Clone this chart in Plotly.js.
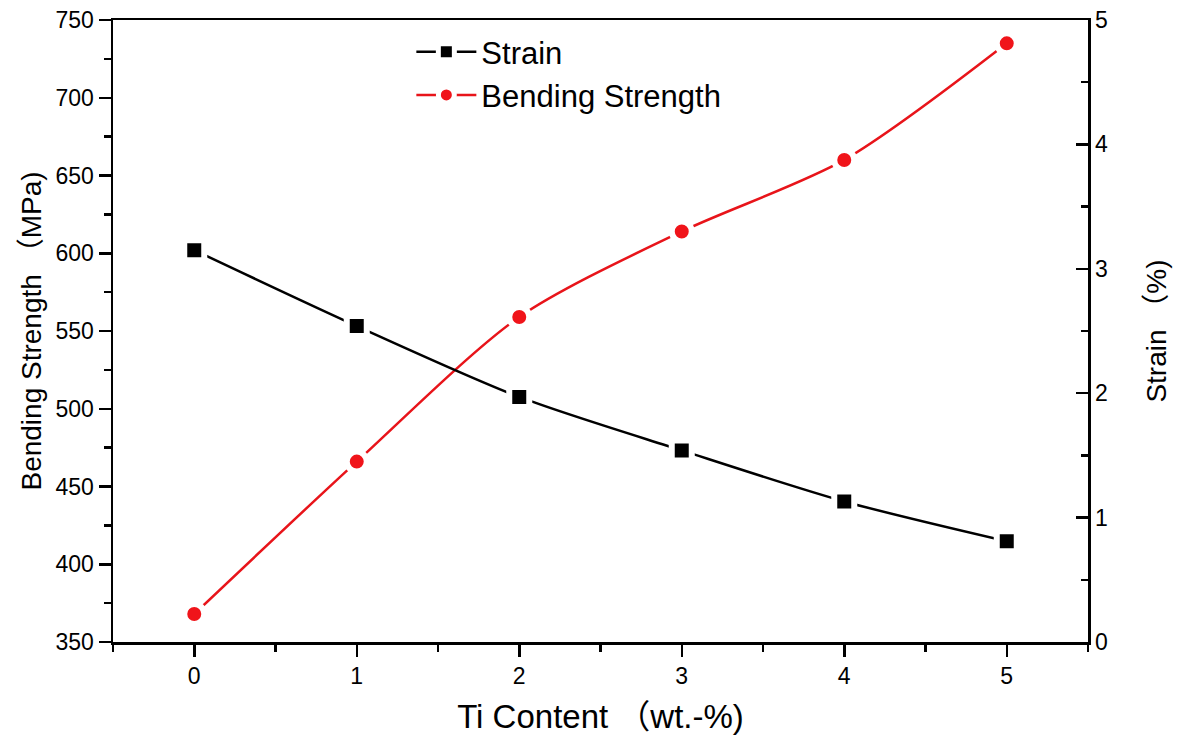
<!DOCTYPE html>
<html>
<head>
<meta charset="utf-8">
<script src="https://cdn.plot.ly/plotly-3.0.1.min.js"></script>
<style>html,body{margin:0;padding:0;background:#fff;}#chart{width:1181px;height:740px;}</style>
</head>
<body>
<div id="chart"></div>
<script>
const tiContent = [0, 1, 2, 3, 4, 5];
const strainPct = [3.15, 2.54, 1.97, 1.54, 1.13, 0.81];
const bendingStrength = [368, 466, 559, 614, 660, 735];

const font = "Arial, 'Liberation Sans', 'Noto Sans CJK SC', sans-serif";
const tickFont = {family: font, size: 23, color: '#000000'};

const traces = [
  {
    x: tiContent, y: strainPct, yaxis: 'y2', name: 'Strain',
    mode: 'lines+markers',
    line: {color: '#000000', width: 2.5, shape: 'spline', smoothing: 0.8},
    marker: {symbol: 'square', size: 20, color: '#000000', line: {color: '#ffffff', width: 6}}
  },
  {
    x: tiContent, y: bendingStrength, yaxis: 'y', name: 'Bending Strength',
    mode: 'lines+markers',
    line: {color: '#e8141a', width: 2.5, shape: 'spline', smoothing: 0.8},
    marker: {symbol: 'circle', size: 20, color: '#f0141a', line: {color: '#ffffff', width: 6}}
  }
];

const layout = {
  width: 1181, height: 740,
  margin: {l: 113, r: 93, t: 20, b: 98},
  paper_bgcolor: '#ffffff', plot_bgcolor: '#ffffff',
  font: {family: font, color: '#000000', size: 23},
  showlegend: true,
  legend: {
    x: 0.306, y: 0.992, xanchor: 'left', yanchor: 'top',
    bgcolor: 'rgba(0,0,0,0)', font: {size: 31, family: font},
    itemwidth: 60, tracegroupgap: 0
  },
  xaxis: {
    range: [-0.5, 5.5], dtick: 1, tick0: 0,
    showgrid: false, zeroline: false,
    showline: true, linecolor: '#000', linewidth: 2.5, mirror: true,
    ticks: 'outside', ticklen: 12, tickwidth: 2.5, tickcolor: '#000',
    minor: {dtick: 0.5, tick0: 0, ticks: 'outside', ticklen: 7, tickwidth: 2.5, tickcolor: '#000'},
    tickfont: tickFont,
    title: {text: 'Ti Content （wt.-%)', font: {size: 33}, standoff: 17}
  },
  yaxis: {
    range: [350, 750], dtick: 50, tick0: 350,
    showgrid: false, zeroline: false,
    showline: true, linecolor: '#000', linewidth: 2.5,
    ticks: 'outside', ticklen: 12, tickwidth: 2.5, tickcolor: '#000',
    minor: {dtick: 25, ticks: 'outside', ticklen: 7, tickwidth: 2.5, tickcolor: '#000'},
    tickfont: tickFont,
    title: {text: 'Bending Strength （MPa)', font: {size: 28}, standoff: 6}
  },
  yaxis2: {
    range: [0, 5], dtick: 1, tick0: 0,
    overlaying: 'y', side: 'right', anchor: 'x',
    showgrid: false, zeroline: false,
    showline: true, linecolor: '#000', linewidth: 2.5,
    ticks: 'inside', ticklen: 12, tickwidth: 2.5, tickcolor: '#000',
    minor: {dtick: 0.5, ticks: 'inside', ticklen: 7, tickwidth: 2.5, tickcolor: '#000'},
    tickfont: tickFont,
    title: {text: 'Strain （%)', font: {size: 28}, standoff: 40}
  }
};

Plotly.newPlot('chart', traces, layout, {staticPlot: true, displayModeBar: false});
</script>
</body>
</html>
